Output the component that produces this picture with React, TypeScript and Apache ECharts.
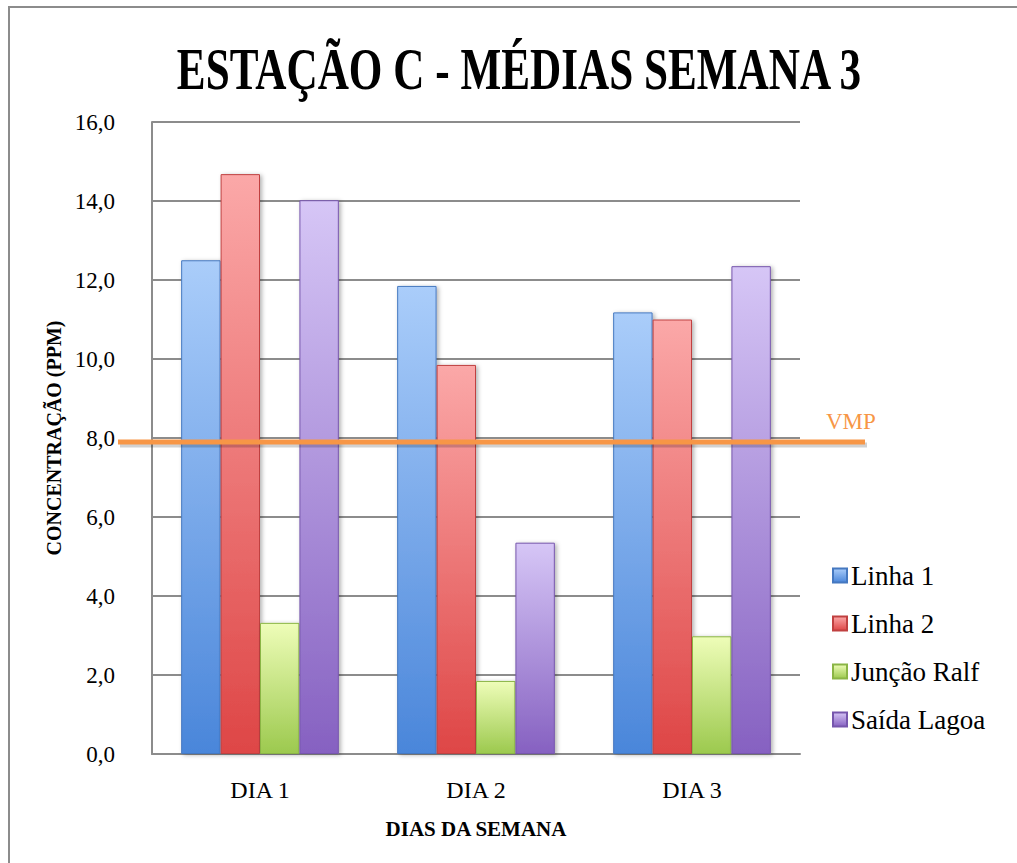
import React, { useEffect, useRef } from "react";
import * as echarts from "echarts";

const categories = ["DIA 1", "DIA 2", "DIA 3"];
const seriesNames = ["Linha 1", "Linha 2", "Junção Ralf", "Saída Lagoa"];
const linha1 = [12.5, 11.85, 11.18];
const linha2 = [14.68, 9.85, 11.0];
const juncaoRalf = [3.32, 1.85, 2.98];
const saidaLagoa = [14.02, 5.35, 12.35];
const vmpValue = 7.9;
const yTicks = { min: 0, max: 16, interval: 2 };

const palette = [
  ["#AACDFA", "#4A86DA", "#4578C0"],
  ["#FBA8A8", "#DE4646", "#C04040"],
  ["#EEFDB8", "#9CC94E", "#8AB545"],
  ["#D6C6F6", "#8661C1", "#7656AD"],
];

const SERIF = "'Liberation Serif', 'DejaVu Serif', serif";

export default function App() {
  const ref = useRef<HTMLDivElement>(null);
  useEffect(() => {
    if (!ref.current) return;
    const chart = echarts.init(ref.current, null, { renderer: "svg" });
    const values = [linha1, linha2, juncaoRalf, saidaLagoa];
    const series = values.map((d, i) => ({
      name: seriesNames[i],
      type: "bar",
      data: d,
      barGap: "0%",
      barCategoryGap: "27%",
      itemStyle: {
        color: new echarts.graphic.LinearGradient(0, 0, 0, 1, [
          { offset: 0, color: palette[i][0] },
          { offset: 1, color: palette[i][1] },
        ]),
        borderColor: palette[i][2],
        borderWidth: 1,
        shadowBlur: 4,
        shadowOffsetX: 2,
        shadowOffsetY: 1,
        shadowColor: "rgba(0,0,0,0.3)",
      },
    }));
    const option: any = {
      animation: false,
      backgroundColor: "#ffffff",
      grid: { left: 152, right: 217, top: 122, bottom: 109, containLabel: false },
      legend: {
        orient: "vertical",
        left: 827,
        top: 557,
        itemWidth: 14,
        itemHeight: 14,
        itemGap: 21,
        icon: "rect",
        data: seriesNames,
        textStyle: { fontFamily: SERIF, fontSize: 27, color: "#000", lineHeight: 27, padding: [0, 0, 0, -1] },
      },
      xAxis: {
        type: "category",
        data: categories,
        axisLine: { show: true, lineStyle: { color: "#8c8c8c", width: 2 } },
        axisTick: { show: false },
        axisLabel: { fontFamily: SERIF, fontSize: 24, color: "#000", margin: 24 },
        name: "DIAS DA SEMANA",
        nameLocation: "middle",
        nameGap: 64,
        nameTextStyle: { fontFamily: SERIF, fontSize: 21, fontWeight: "bold", color: "#000", verticalAlign: "top" },
      },
      yAxis: {
        type: "value",
        min: yTicks.min,
        max: yTicks.max,
        interval: yTicks.interval,
        axisLine: { show: true, lineStyle: { color: "#8c8c8c", width: 2 } },
        axisTick: { show: false },
        splitLine: { show: true, lineStyle: { color: "#8c8c8c", width: 2 } },
        axisLabel: {
          fontFamily: SERIF,
          fontSize: 23,
          color: "#000",
          margin: 37,
          formatter: (v: number) => v.toFixed(1).replace(".", ","),
        },
        name: "CONCENTRAÇÃO (PPM)",
        nameLocation: "middle",
        nameRotate: 90,
        nameGap: 86,
        nameTextStyle: { fontFamily: SERIF, fontSize: 20, fontWeight: "bold", color: "#000" },
      },
      series,
    };
    chart.setOption(option);
    const vy = chart.convertToPixel({ yAxisIndex: 0 }, vmpValue) as number;
    chart.setOption({
      graphic: [
        {
          type: "rect",
          shape: { x: 9, y: 7, width: 1100, height: 1000 },
          style: { fill: "none", stroke: "#8c8c8c", lineWidth: 2 },
          silent: true,
        },
        {
          type: "text",
          x: 519,
          y: 68,
          scaleX: 0.72,
          style: {
            text: "ESTAÇÃO C - MÉDIAS SEMANA 3",
            fill: "#000",
            font: `bold 60px ${SERIF}`,
            textAlign: "center",
            textVerticalAlign: "middle",
          },
        },
        {
          type: "line",
          shape: { x1: 120, y1: vy + 3, x2: 867, y2: vy + 3 },
          style: { stroke: "rgba(0,0,0,0.18)", lineWidth: 5 },
          z: 9,
        },
        {
          type: "line",
          shape: { x1: 118, y1: vy, x2: 865, y2: vy },
          style: { stroke: "#F79646", lineWidth: 5 },
          z: 10,
        },
        {
          type: "text",
          x: 826,
          y: vy - 9,
          style: {
            text: "VMP",
            fill: "#F79646",
            font: `23px ${SERIF}`,
            textVerticalAlign: "bottom",
          },
          z: 10,
        },
      ],
    });
    return () => chart.dispose();
  }, []);
  return (
    <div style={{ position: "fixed", left: 0, top: 0, width: 1017, height: 863 }}>
      <div ref={ref} style={{ width: 1017, height: 863 }} />
    </div>
  );
}
